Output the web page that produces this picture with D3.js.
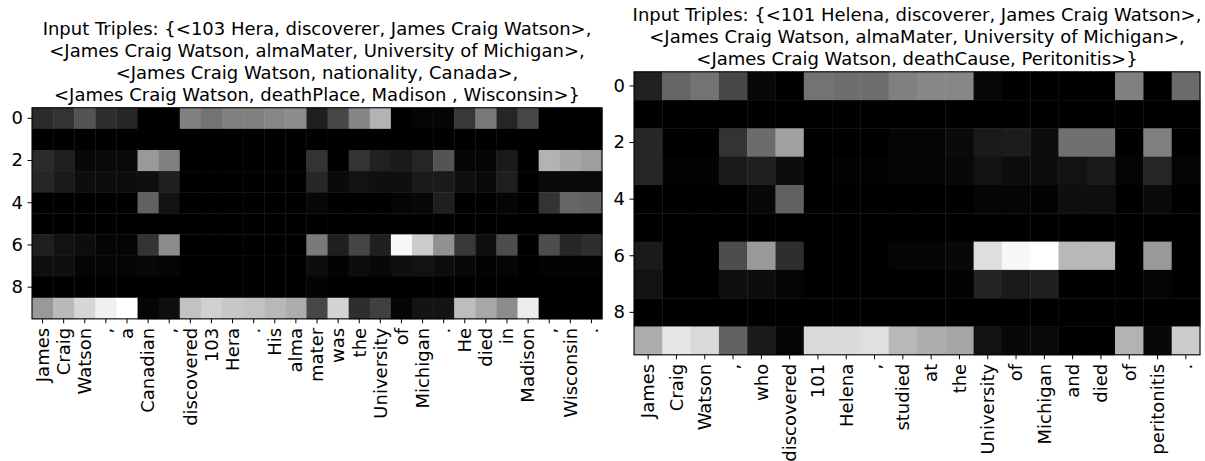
<!DOCTYPE html>
<html>
<head>
<meta charset="utf-8">
<script src="https://cdn.jsdelivr.net/npm/d3@7"></script>
<style>
    html, body { margin: 0; padding: 0; background: #fff; }
    svg { display: block; }
    text { font-family: "DejaVu Sans", sans-serif; fill: #000; }
    .axis path, .axis line { stroke: #000; }
</style>
</head>
<body>
<div id="chart"></div>
<script>
'use strict';

var yTicks = [0, 2, 4, 6, 8];

var leftTitle = [
    'Input Triples: {<103 Hera, discoverer, James Craig Watson>,',
    '<James Craig Watson, almaMater, University of Michigan>,',
    '<James Craig Watson, nationality, Canada>,',
    '<James Craig Watson, deathPlace, Madison , Wisconsin>}'
];

var leftTokens = ['James', 'Craig', 'Watson', ',', 'a', 'Canadian', ',', 'discovered', '103', 'Hera', '.',
    'His', 'alma', 'mater', 'was', 'the', 'University', 'of', 'Michigan', '.', 'He', 'died', 'in',
    'Madison', ',', 'Wisconsin', '.'];

var leftValues = [
    [0.17, 0.20, 0.33, 0.18, 0.15, 0, 0, 0.50, 0.45, 0.50, 0.50, 0.53, 0.55, 0.12, 0.28, 0.52, 0.70, 0, 0.02, 0.02, 0.22, 0.47, 0.15, 0.28, 0, 0, 0],
    [0, 0, 0, 0, 0, 0, 0, 0, 0, 0, 0, 0, 0, 0, 0, 0, 0, 0, 0, 0, 0, 0, 0, 0, 0, 0, 0],
    [0.17, 0.12, 0.03, 0.04, 0.04, 0.60, 0.50, 0, 0, 0, 0, 0, 0, 0.20, 0, 0.20, 0.13, 0.10, 0.15, 0.33, 0.02, 0.02, 0.10, 0, 0.70, 0.65, 0.62],
    [0.15, 0.10, 0.05, 0.05, 0.05, 0.06, 0.12, 0, 0, 0, 0, 0, 0, 0.15, 0.04, 0.07, 0.06, 0.06, 0.10, 0.10, 0.06, 0.04, 0.12, 0, 0.04, 0.04, 0.04],
    [0, 0, 0, 0, 0, 0.38, 0.07, 0, 0, 0, 0, 0, 0, 0.03, 0, 0, 0, 0.02, 0.03, 0.12, 0, 0, 0.02, 0, 0.20, 0.40, 0.38],
    [0, 0, 0, 0, 0, 0, 0, 0, 0, 0, 0, 0, 0, 0, 0, 0, 0, 0, 0, 0, 0, 0, 0, 0, 0, 0, 0],
    [0.12, 0.07, 0.05, 0.02, 0.02, 0.20, 0.55, 0, 0, 0, 0, 0, 0, 0.48, 0.12, 0.27, 0.12, 0.97, 0.80, 0.57, 0.22, 0.06, 0.30, 0, 0.30, 0.15, 0.18],
    [0.06, 0.06, 0.02, 0.02, 0.02, 0.03, 0.02, 0, 0, 0, 0, 0, 0, 0.05, 0.01, 0.05, 0.03, 0.06, 0.07, 0.05, 0.03, 0.01, 0.02, 0, 0.01, 0.01, 0.01],
    [0, 0, 0, 0, 0, 0, 0, 0, 0, 0, 0, 0, 0, 0.01, 0, 0, 0, 0, 0, 0, 0, 0, 0, 0, 0, 0, 0],
    [0.60, 0.73, 0.84, 0.94, 1.00, 0.02, 0.06, 0.76, 0.82, 0.78, 0.76, 0.72, 0.68, 0.28, 0.83, 0.18, 0.25, 0.02, 0.08, 0.08, 0.74, 0.66, 0.55, 0.93, 0, 0, 0]
];

var rightTitle = [
    'Input Triples: {<101 Helena, discoverer, James Craig Watson>,',
    '<James Craig Watson, almaMater, University of Michigan>,',
    '<James Craig Watson, deathCause, Peritonitis>}'
];

var rightTokens = ['James', 'Craig', 'Watson', ',', 'who', 'discovered', '101', 'Helena', ',', 'studied',
    'at', 'the', 'University', 'of', 'Michigan', 'and', 'died', 'of', 'peritonitis', '.'];

var rightValues = [
    [0.13, 0.40, 0.45, 0.28, 0.03, 0, 0.45, 0.43, 0.43, 0.50, 0.53, 0.53, 0.03, 0, 0, 0, 0, 0.50, 0, 0.42],
    [0, 0, 0, 0, 0, 0, 0, 0, 0, 0, 0, 0, 0, 0, 0, 0, 0, 0, 0, 0],
    [0.15, 0, 0, 0.20, 0.42, 0.63, 0, 0, 0, 0.02, 0.02, 0.04, 0.10, 0.11, 0.05, 0.44, 0.44, 0, 0.50, 0],
    [0.15, 0.01, 0.01, 0.10, 0.12, 0.05, 0, 0.01, 0.01, 0.02, 0.02, 0.03, 0.07, 0.05, 0.05, 0.07, 0.10, 0.02, 0.15, 0.02],
    [0, 0, 0, 0, 0.03, 0.38, 0, 0, 0, 0, 0, 0, 0.02, 0.02, 0.01, 0.06, 0.06, 0, 0.04, 0],
    [0, 0, 0, 0, 0, 0, 0, 0, 0, 0, 0, 0, 0, 0, 0, 0, 0, 0, 0, 0],
    [0.10, 0, 0, 0.30, 0.60, 0.18, 0, 0, 0, 0.02, 0.02, 0.03, 0.87, 0.97, 1.00, 0.72, 0.72, 0, 0.60, 0],
    [0.07, 0, 0, 0.06, 0.05, 0.02, 0, 0, 0, 0, 0, 0.01, 0.14, 0.10, 0.12, 0, 0, 0, 0.02, 0],
    [0, 0, 0, 0, 0, 0, 0, 0, 0, 0, 0, 0, 0, 0, 0, 0, 0, 0, 0, 0],
    [0.68, 0.90, 0.85, 0.38, 0.10, 0.02, 0.85, 0.86, 0.88, 0.72, 0.68, 0.65, 0.07, 0.03, 0.04, 0, 0, 0.70, 0.03, 0.80]
];

var width = 1205,
    height = 461,
    centerY = 213.3,
    fontSize = 18,
    lineHeight = 22,
    titlePad = 7,
    tickSize = 4.5,
    tickPadding = 4.5;

var svg = d3.select('#chart').append('svg')
    .attr('width', width)
    .attr('height', height);

// one imshow-like panel, square cells, grey colormap scaled to the data
function heatmap(g, tokens, values, title, left, panelWidth) {
    var rows = values.length,
        cols = tokens.length,
        cell = panelWidth / cols,
        top = centerY - cell * rows / 2,
        cells = [],
        x, y, color, extent, axisX, axisY;

    values.forEach(function (row, r) {
        row.forEach(function (v, c) {
            cells.push({ r: r, c: c, v: v });
        });
    });

    extent = d3.extent(cells, function (d) { return d.v; });

    x = d3.scaleBand()
        .domain(d3.range(cols))
        .range([left, left + cell * cols]);

    y = d3.scaleBand()
        .domain(d3.range(rows))
        .range([top, top + cell * rows]);

    color = d3.scaleLinear()
        .domain(extent)
        .range(['#000000', '#ffffff']);

    g.append('g')
        .selectAll('rect')
        .data(cells)
        .enter()
        .append('rect')
        .attr('x', function (d) { return x(d.c); })
        .attr('y', function (d) { return y(d.r); })
        .attr('width', x.bandwidth() + 0.4)
        .attr('height', y.bandwidth() + 0.4)
        .attr('fill', function (d) { return color(d.v); });

    g.append('rect')
        .attr('x', left)
        .attr('y', top)
        .attr('width', cell * cols)
        .attr('height', cell * rows)
        .attr('fill', 'none')
        .attr('stroke', '#000')
        .attr('stroke-width', 1.1);

    axisY = g.append('g')
        .attr('class', 'axis')
        .attr('transform', 'translate(' + left + ',0)')
        .call(d3.axisLeft(y)
            .tickValues(yTicks)
            .tickSize(tickSize)
            .tickPadding(tickPadding));
    axisY.select('.domain').remove();
    axisY.selectAll('text')
        .style('font-size', fontSize + 'px')
        .style('font-family', '"DejaVu Sans", sans-serif');

    axisX = g.append('g')
        .attr('class', 'axis')
        .attr('transform', 'translate(0,' + (top + cell * rows) + ')')
        .call(d3.axisBottom(x)
            .tickFormat(function (i) { return tokens[i]; })
            .tickSize(tickSize)
            .tickPadding(tickPadding));
    axisX.select('.domain').remove();
    axisX.selectAll('text')
        .attr('transform', 'rotate(-90)')
        .attr('x', -(tickSize + tickPadding))
        .attr('y', 0)
        .attr('dy', '0.35em')
        .attr('text-anchor', 'end')
        .style('font-size', fontSize + 'px')
        .style('font-family', '"DejaVu Sans", sans-serif');

    g.append('text')
        .attr('text-anchor', 'middle')
        .style('font-size', fontSize + 'px')
        .selectAll('tspan')
        .data(title)
        .enter()
        .append('tspan')
        .attr('x', left + cell * cols / 2)
        .attr('y', function (d, i) {
            return top - titlePad - (title.length - 1 - i) * lineHeight;
        })
        .text(function (d) { return d; });
}

heatmap(svg.append('g'), leftTokens, leftValues, leftTitle, 32, 570);
heatmap(svg.append('g'), rightTokens, rightValues, rightTitle, 634, 566);
</script>
</body>
</html>
